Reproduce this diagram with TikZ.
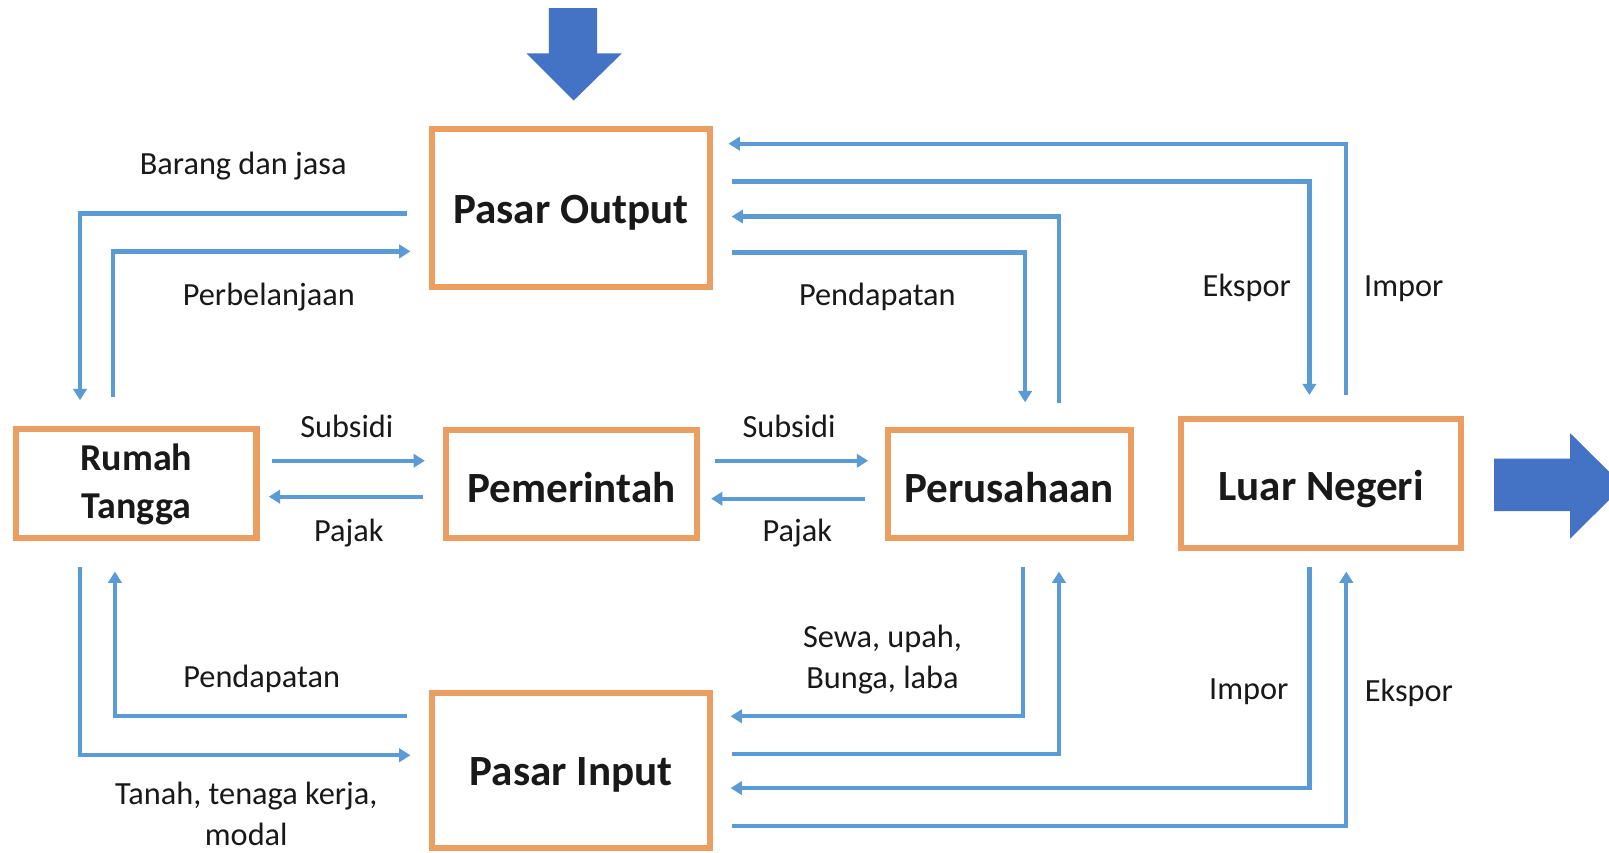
\documentclass[tikz,border=0pt]{standalone}
\usepackage{fontspec}
\setmainfont{Carlito}
\usetikzlibrary{arrows.meta}
\definecolor{lblue}{RGB}{91,155,213}
\definecolor{dblue}{RGB}{68,114,196}
\definecolor{orng}{RGB}{234,158,98}
\definecolor{txt}{RGB}{25,25,25}
\tikzset{
  box/.style={draw=orng, line width=6pt, fill=white, inner sep=0pt},
  boxtext/.style={inner sep=0pt, align=center, font=\fontsize{42}{48}\selectfont\bfseries, text=txt},
  flow/.style={draw=lblue, line width=4.2pt, -{Triangle[length=11pt,width=13pt]}},
  lbl/.style={font=\fontsize{31.5}{40}\selectfont, text=txt, align=center, inner sep=0pt},
  bigarrow/.style={fill=dblue, draw=none}
}
\begin{document}
\begin{tikzpicture}[x=1pt,y=-1pt]
\useasboundingbox (0,0) rectangle (1568,831);
\fill[white] (0,0) rectangle (1568,831);

% big arrows
\fill[bigarrow] (535,8) -- (582,8) -- (582,52) -- (606,52) -- (559,98) -- (513,52) -- (535,52) -- cycle;
\begin{scope}
\clip (0,0) rectangle (1568,831);
\fill[bigarrow] (1456,447) -- (1530,447) -- (1530,422) -- (1582,473.5) -- (1530,525) -- (1530,498) -- (1456,498) -- cycle;
\end{scope}

% boxes
\node[box, minimum width=271pt, minimum height=154pt] (po) at (556.5,203) {};
\node[box, minimum width=234pt, minimum height=106pt] (rt) at (133,471) {};
\node[box, minimum width=244pt, minimum height=105pt] (pm) at (557,471.5) {};
\node[box, minimum width=237pt, minimum height=105pt] (pr) at (983.5,471.5) {};
\node[box, minimum width=273pt, minimum height=126pt] (ln) at (1287.5,471) {};
\node[box, minimum width=271pt, minimum height=151pt] (pi) at (556.5,750.5) {};
\node[boxtext] (tpo) at (556.5,207) {Pasar Output};
\node[boxtext, font=\fontsize{37}{47}\selectfont\bfseries] (trt) at (133,472) {Rumah\\Tangga};
\node[boxtext] (tpm) at (557,475) {Pemerintah};
\node[boxtext] (tpr) at (983.5,475) {Perusahaan};
\node[boxtext] (tln) at (1287.5,477) {Luar Negeri};
\node[boxtext] (tpi) at (556.5,755) {Pasar Input};

% connector ends
\coordinate (a1s) at (397,208); \coordinate (a1e) at (78,390);
\coordinate (a2s) at (110,387); \coordinate (a2e) at (400,245);
\coordinate (b1s) at (1312,385); \coordinate (b1e) at (710,140);
\coordinate (b2s) at (713,177); \coordinate (b2e) at (1276,385);
\coordinate (b3s) at (1032,393); \coordinate (b3e) at (713,211);
\coordinate (b4s) at (713,246); \coordinate (b4e) at (999,392);
\coordinate (c1s) at (265,449); \coordinate (c1e) at (414,449);
\coordinate (c2s) at (412,484); \coordinate (c2e) at (262,484);
\coordinate (c3s) at (697,449); \coordinate (c3e) at (846,449);
\coordinate (c4s) at (843,486); \coordinate (c4e) at (693,486);
\coordinate (d1s) at (78,553); \coordinate (d1e) at (400,736);
\coordinate (d2s) at (397,698); \coordinate (d2e) at (112,557);
\coordinate (e1s) at (997,553); \coordinate (e1e) at (712,698);
\coordinate (e2s) at (713,735); \coordinate (e2e) at (1032,557);
\coordinate (e3s) at (1276,553); \coordinate (e3e) at (712,768);
\coordinate (e4s) at (713,805); \coordinate (e4e) at (1312,557);

% connectors
\draw[flow] (a1s) -| (a1e);
\draw[flow] (a2s) |- (a2e);
\draw[flow] (b1s) |- (b1e);
\draw[flow] (b2s) -| (b2e);
\draw[flow] (b3s) |- (b3e);
\draw[flow] (b4s) -| (b4e);
\draw[flow] (c1s) -- (c1e);
\draw[flow] (c2s) -- (c2e);
\draw[flow] (c3s) -- (c3e);
\draw[flow] (c4s) -- (c4e);
\draw[flow] (d1s) |- (d1e);
\draw[flow] (d2s) -| (d2e);
\draw[flow] (e1s) |- (e1e);
\draw[flow] (e2s) -| (e2e);
\draw[flow] (e3s) |- (e3e);
\draw[flow] (e4s) -| (e4e);

% labels
\node[lbl] (l1) at (237,162) {Barang dan jasa};
\node[lbl] (l2) at (262,289) {Perbelanjaan};
\node[lbl] (l3) at (855,289) {Pendapatan};
\node[lbl] (l4) at (1215,281) {Ekspor};
\node[lbl] (l5) at (1368,281) {Impor};
\node[lbl] (l6) at (338,416) {Subsidi};
\node[lbl] (l7) at (340,519) {Pajak};
\node[lbl] (l8) at (769,416) {Subsidi};
\node[lbl] (l9) at (777,519) {Pajak};
\node[lbl] (l10) at (255,662) {Pendapatan};
\node[lbl] (l11) at (240,793) {Tanah, tenaga kerja,\\modal};
\node[lbl] (l12) at (860,643) {Sewa, upah,\\Bunga, laba};
\node[lbl] (l13) at (1217,674) {Impor};
\node[lbl] (l14) at (1373,675) {Ekspor};
\end{tikzpicture}
\end{document}
